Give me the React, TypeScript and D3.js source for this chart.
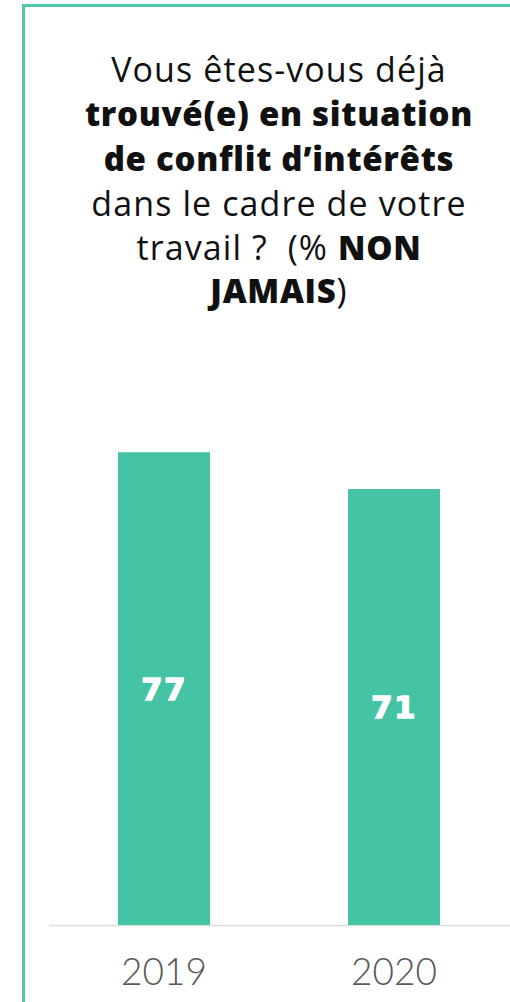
import React from "react";
import * as d3 from "d3";

const categories = ["2019", "2020"];
const values = [77, 71];
const titleLines: { text: string; bold: boolean }[][] = [
  [{ text: "Vous êtes-vous déjà", bold: false }],
  [{ text: "trouvé(e) en situation", bold: true }],
  [{ text: "de conflit d’intérêts", bold: true }],
  [{ text: "dans le cadre de votre", bold: false }],
  [
    { text: "travail ?\u00a0 (% ", bold: false },
    { text: "NON", bold: true },
  ],
  [
    { text: "JAMAIS", bold: true },
    { text: ")", bold: false },
  ],
];
const titleBaselines = [82, 126, 171, 216, 260, 303];

const W = 510;
const H = 1002;
const TEAL = "#45c3a5";

export default function App() {
  const baseline = 925;
  const x = d3
    .scaleBand<string>()
    .domain(categories)
    .range([49, 509])
    .paddingInner(0.6)
    .paddingOuter(0.3);
  const y = d3.scaleLinear().domain([0, 100]).range([baseline, baseline - 614]);

  return (
    <svg
      width={W}
      height={H}
      style={{ position: "absolute", left: 0, top: 0, background: "#fff" }}
    >
      <rect x={23.5} y={5.5} width={700} height={1200} fill="none" stroke="#4fc8ab" strokeWidth={3} />
      <g fontFamily="'Open Sans', sans-serif" fill="#111" textAnchor="middle">
        {titleLines.map((line, i) => (
          <text key={i} x={279} y={titleBaselines[i]}>
            {line.map((seg, j) => (
              <tspan
                key={j}
                fontWeight={seg.bold ? 800 : 400}
                fontSize={seg.bold ? 33 : 34}
                letterSpacing={seg.bold ? 0.7 : 1.1}
              >
                {seg.text}
              </tspan>
            ))}
          </text>
        ))}
      </g>
      <line x1={49} x2={W} y1={baseline + 0.5} y2={baseline + 0.5} stroke="#dcdcdc" strokeWidth={1.5} />
      {categories.map((c, i) => (
        <g key={c}>
          <rect
            x={x(c)}
            y={y(values[i])}
            width={x.bandwidth()}
            height={baseline - y(values[i])}
            fill={TEAL}
          />
          <text
            x={(x(c) ?? 0) + x.bandwidth() / 2}
            y={(y(values[i]) + baseline) / 2}
            dy="0.36em"
            textAnchor="middle"
            fontFamily="'DejaVu Sans', sans-serif"
            fontWeight={700}
            fontSize={31}
            letterSpacing={1.5}
            stroke="#fff"
            strokeWidth={1.3}
            fill="#fff"
          >
            {values[i]}
          </text>
          <text
            x={(x(c) ?? 0) + x.bandwidth() / 2}
            y={985}
            textAnchor="middle"
            fontFamily="Lato, sans-serif"
            fontWeight={300}
            fontSize={37}
            fill="#595959"
          >
            {c}
          </text>
        </g>
      ))}
    </svg>
  );
}
